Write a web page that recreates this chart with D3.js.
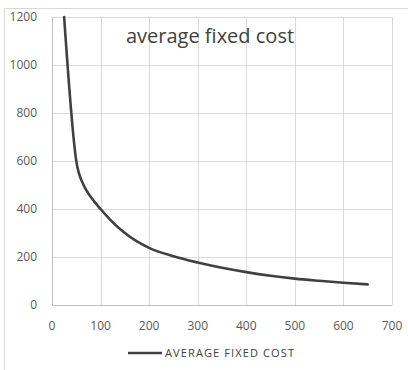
<!DOCTYPE html>
<html><head><meta charset="utf-8">
<script src="https://cdn.jsdelivr.net/npm/d3@7"></script>
<style>body{margin:0;background:#fff}svg{display:block}</style>
</head><body>
<svg id="c" width="408" height="370"></svg>
<script>
const quantity = [25, 50, 65, 80, 100, 120, 150, 200, 250, 300, 350, 400, 450, 500, 550, 600, 650];
const averageFixedCost = [1200, 600, 500, 450, 400, 355, 300, 238, 203, 177, 155, 137, 122, 110, 101, 93, 86];
const xTicks = [0, 100, 200, 300, 400, 500, 600, 700];
const yTicks = [0, 200, 400, 600, 800, 1000, 1200];
const title = "average fixed cost";
const seriesName = "AVERAGE FIXED COST";

const svg = d3.select("#c");
const font = "'Open Sans', 'Noto Sans', sans-serif";
const x = d3.scaleLinear().domain([0, 700]).range([52, 392]);
const y = d3.scaleLinear().domain([0, 1200]).range([305, 17]);

// outer frame
svg.append("path").attr("d", "M4.5,370 V8.5 H408").attr("fill", "none").attr("stroke", "#d9d9d9").attr("stroke-width", 1);

// gridlines
svg.append("g").selectAll("line").data(yTicks).join("line")
  .attr("x1", x(0)).attr("x2", x(700))
  .attr("y1", d => Math.round(y(d)) + 0.5).attr("y2", d => Math.round(y(d)) + 0.5)
  .attr("stroke", "#d9d9d9").attr("stroke-width", 1);
svg.append("g").selectAll("line").data(xTicks).join("line")
  .attr("y1", y(0)).attr("y2", y(1200))
  .attr("x1", d => Math.round(x(d)) + 0.5).attr("x2", d => Math.round(x(d)) + 0.5)
  .attr("stroke", "#d9d9d9").attr("stroke-width", 1);
// axis lines
svg.append("line").attr("x1", x(0)).attr("x2", x(700)).attr("y1", Math.round(y(0)) + 0.5).attr("y2", Math.round(y(0)) + 0.5).attr("stroke", "#bfbfbf");
svg.append("line").attr("x1", Math.round(x(0)) + 0.5).attr("x2", Math.round(x(0)) + 0.5).attr("y1", y(0)).attr("y2", y(1200)).attr("stroke", "#bfbfbf");

// tick labels
svg.append("g").selectAll("text").data(yTicks).join("text")
  .attr("x", 37).attr("y", d => y(d)).attr("dy", "0.35em")
  .attr("text-anchor", "end").attr("font-family", font).attr("font-size", 12).attr("fill", "#595959")
  .text(d => d);
svg.append("g").selectAll("text").data(xTicks).join("text")
  .attr("x", d => x(d)).attr("y", 330)
  .attr("text-anchor", "middle").attr("font-family", font).attr("font-size", 12).attr("fill", "#595959")
  .text(d => d);

// line
const line = d3.line().x((d, i) => x(quantity[i])).y(d => y(d)).curve(d3.curveMonotoneX);
svg.append("path").datum(averageFixedCost).attr("d", line)
  .attr("fill", "none").attr("stroke", "#404040").attr("stroke-width", 2.6).attr("stroke-linecap", "round");

// title
svg.append("text").attr("x", 210).attr("y", 43).attr("text-anchor", "middle")
  .attr("font-family", font).attr("font-size", 20).attr("fill", "#404040").text(title);

// legend
svg.append("line").attr("x1", 128).attr("x2", 162).attr("y1", 353).attr("y2", 353)
  .attr("stroke", "#404040").attr("stroke-width", 2.6);
svg.append("text").attr("x", 165).attr("y", 357).attr("font-family", font).attr("font-size", 11)
  .attr("textLength", 129).attr("lengthAdjust", "spacing")
  .attr("fill", "#404040").text(seriesName);
</script>
</body></html>
